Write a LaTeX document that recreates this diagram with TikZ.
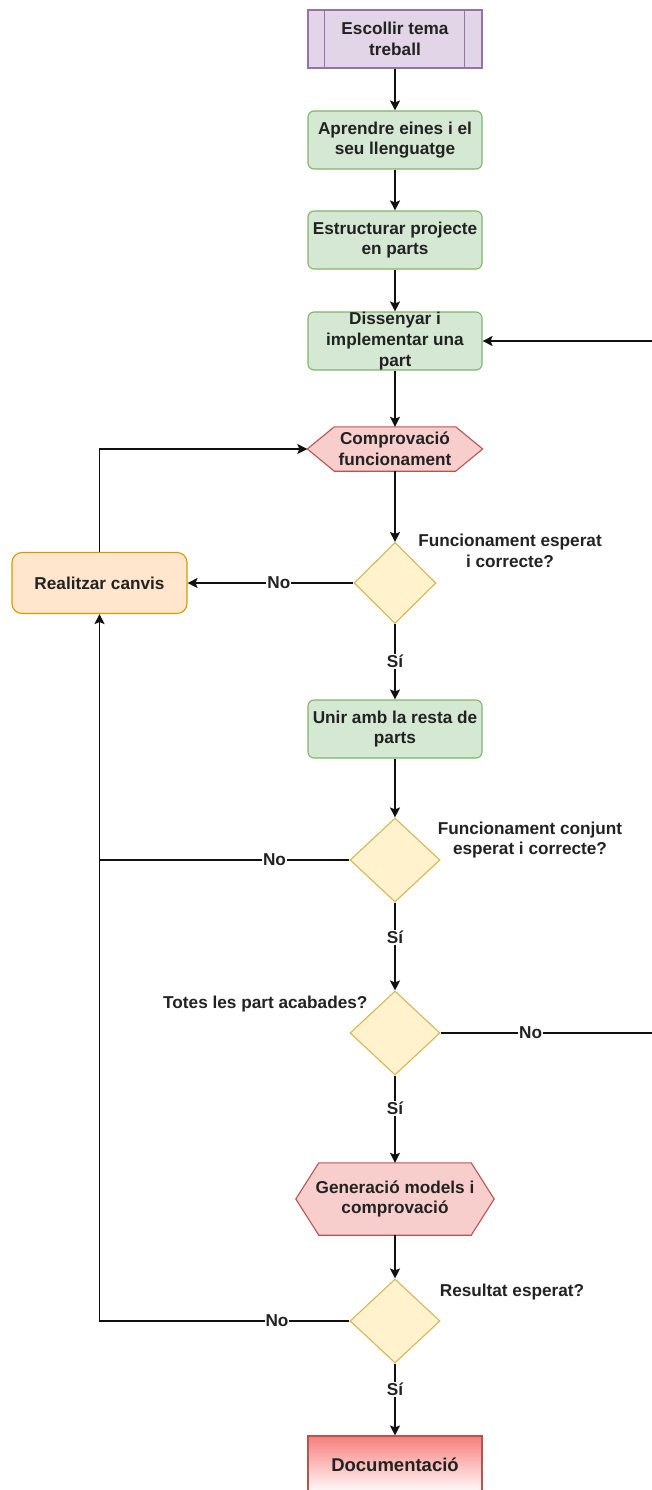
\documentclass[tikz,border=0pt]{standalone}
\usepackage{fontspec}
\setmainfont{Liberation Sans}
\usetikzlibrary{shapes.geometric,arrows.meta,backgrounds,calc}

\definecolor{pfill}{HTML}{E1D5E7}
\definecolor{pline}{HTML}{9673A6}
\definecolor{gfill}{HTML}{D5E8D4}
\definecolor{gline}{HTML}{82B366}
\definecolor{rfill}{HTML}{F8CECC}
\definecolor{rline}{HTML}{B85450}
\definecolor{yfill}{HTML}{FFF2CC}
\definecolor{yline}{HTML}{D6B656}
\definecolor{ofill}{HTML}{FFE6CC}
\definecolor{oline}{HTML}{D79B00}
\definecolor{dred}{HTML}{F77F7C}
\definecolor{txt}{HTML}{222222}
\definecolor{wire}{HTML}{111111}

\begin{document}
\begin{tikzpicture}[x=1pt,y=-1pt,
  font=\fontsize{17.2}{20.6}\selectfont\bfseries,
  text=txt,
  base/.style={rectangle, align=center, inner sep=0pt, line width=1.1pt,
    minimum width=174pt, minimum height=58pt},
  procbox/.style={base, draw=pline, fill=pfill},
  greenbox/.style={base, rounded corners=6pt, draw=gline, fill=gfill},
  orangebox/.style={base, rounded corners=10pt, draw=oline, fill=ofill,
    minimum width=175pt, minimum height=61pt},
  docbox/.style={base, draw=rline, top color=dred, bottom color=white,
    font=\fontsize{18.5}{22}\selectfont\bfseries},
  hexnode/.style={rectangle, align=center, inner sep=0pt},
  hexline/.style={draw=rline, fill=rfill, line width=1.1pt, line join=miter},
  decision/.style={diamond, draw=yline, fill=yfill, inner sep=0pt,
    line width=1.1pt, minimum width=90pt, minimum height=84pt},
  arr/.style={draw=wire, line width=1.3pt, -{Stealth[length=10pt,width=10pt,inset=2pt]}},
  plain/.style={draw=wire, line width=1.3pt},
  lbl/.style={fill=white, inner sep=1pt, text=txt},
  note/.style={align=center, text=txt}
]
\useasboundingbox (0,0) rectangle (652,1490);

% main column of steps
\node[procbox]  (esc)  at (395,39)  {Escollir tema\\treball};
\draw[pline, line width=1.1pt] ([xshift=17pt]esc.north west) -- ([xshift=17pt]esc.south west);
\draw[pline, line width=1.1pt] ([xshift=-18pt]esc.north east) -- ([xshift=-18pt]esc.south east);
\node[greenbox] (apr)  at (395,140) {Aprendre eines i el\\seu llenguatge};
\node[greenbox] (est)  at (395,240) {Estructurar projecte\\en parts};
\node[greenbox] (dis)  at (395,341) {Dissenyar i\\implementar una\\part};

\node[hexnode, minimum width=175pt, minimum height=44pt] (comp) at (395,449) {Comprovació\\funcionament};
\begin{scope}[on background layer]
  \draw[hexline] (comp.west) -- ([xshift=27pt]comp.north west) -- ([xshift=-27pt]comp.north east)
    -- (comp.east) -- ([xshift=-27pt]comp.south east) -- ([xshift=27pt]comp.south west) -- cycle;
\end{scope}

\node[decision, minimum width=82pt, minimum height=81pt] (d1) at (395,583) {};
\node[note] (n1) at (510,551) {Funcionament esperat\\i correcte?};

\node[orangebox] (rea) at (99.5,583) {Realitzar canvis};

\node[greenbox] (uni) at (395,729) {Unir amb la resta de\\parts};

\node[decision] (d2) at (395,860) {};
\node[note] (n2) at (530,840) {Funcionament conjunt\\esperat i correcte?};

\node[decision] (d3) at (395,1033) {};
\node[note, anchor=east] (n3) at (371,1004) {Totes les part acabades?};

\node[hexnode, minimum width=198pt, minimum height=72pt] (gen) at (395,1199) {Generació models i\\comprovació};
\begin{scope}[on background layer]
  \draw[hexline] (gen.west) -- ([xshift=23pt]gen.north west) -- ([xshift=-23pt]gen.north east)
    -- (gen.east) -- ([xshift=-23pt]gen.south east) -- ([xshift=23pt]gen.south west) -- cycle;
\end{scope}

\node[decision] (d4) at (395,1321) {};
\node[note] (n4) at (512,1292) {Resultat esperat?};

\node[docbox] (doc) at (395,1465) {Documentació};

% helper point for the loop-back line on the right
\coordinate (rside) at (655,0);

% connectors
\draw[arr] (esc) -- (apr);
\draw[arr] (apr) -- (est);
\draw[arr] (est) -- (dis);
\draw[arr] (dis) -- (comp);
\draw[arr] (comp) -- (d1);
\draw[arr] (d1.west) -- node[lbl, pos=0.45] {No} (rea.east);
\draw[arr] (rea.north) |- (comp.west);
\draw[arr] (d1.south) -- node[lbl] {Sí} (uni.north);
\draw[arr] (uni) -- (d2);
\draw[arr] (d2.west) -- node[lbl, pos=0.30] {No} (d2.west -| rea.south) -- (rea.south);
\draw[arr] (d2.south) -- node[lbl, pos=0.40] {Sí} (d3.north);
\draw[arr] (d3.east) -- node[lbl, pos=0.42] {No} (d3.east -| rside) -- (dis.east -| rside) -- (dis.east);
\draw[arr] (d3.south) -- node[lbl, pos=0.38] {Sí} (gen.north);
\draw[arr] (gen) -- (d4);
\draw[plain] (d4.west) -- node[lbl, pos=0.29] {No} (d4.west -| rea.south) -- (d2.west -| rea.south);
\draw[arr] (d4.south) -- node[lbl, pos=0.36] {Sí} (doc.north);

\end{tikzpicture}
\end{document}
